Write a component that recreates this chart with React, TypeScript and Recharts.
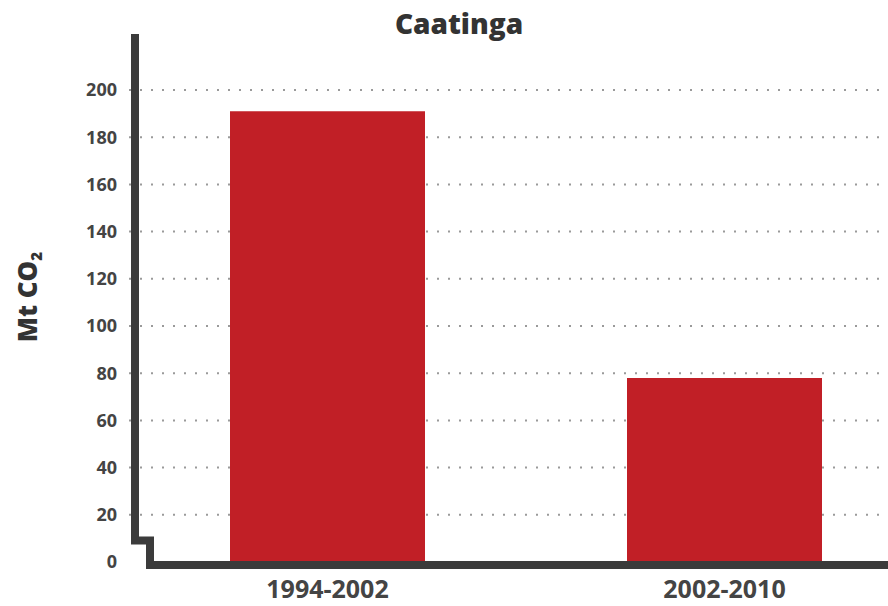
import { BarChart, Bar, XAxis, YAxis, CartesianGrid } from 'recharts';

// Caatinga emissions per period (Mt CO2)
const periods = ['1994-2002', '2002-2010'];
const emissions = [191, 78];
const yTicks = [0, 20, 40, 60, 80, 100, 120, 140, 160, 180, 200];

const data = periods.map((period, i) => ({ period, value: emissions[i] }));

const FONT = '"Open Sans", "DejaVu Sans", sans-serif';
const INK = '#444444';
const AXIS = '#3b3b3b';

export default function App() {
  return (
    <div
      style={{
        position: 'absolute',
        left: 0,
        top: 0,
        width: 888,
        height: 606,
        overflow: 'hidden',
        background: '#fff',
      }}
    >
      <BarChart
        width={930}
        height={606}
        data={data}
        margin={{ top: 90, right: 7, bottom: 0, left: 0 }}
      >
        {/* no dotted line at zero, the axis sits there */}
        <CartesianGrid
          vertical={false}
          horizontalValues={yTicks.slice(1)}
          stroke="#9a9a9a"
          strokeWidth={2}
          strokeDasharray="2 9"
        />
        <XAxis
          dataKey="period"
          height={44}
          axisLine={false}
          tickLine={false}
          tickSize={0}
          tickMargin={18}
          tick={{ fill: INK, fontSize: 25, fontWeight: 700, fontFamily: FONT }}
        />
        <YAxis
          width={129}
          domain={[0, 200]}
          ticks={yTicks}
          interval={0}
          axisLine={false}
          tickLine={false}
          tickSize={0}
          tickMargin={12}
          tick={{ fill: INK, fontSize: 18, fontWeight: 700, fontFamily: FONT }}
        />
        <Bar dataKey="value" fill="#c11f26" barSize={195} isAnimationActive={false} />
      </BarChart>

      {/* title, axis title and the broken axis frame */}
      <svg
        width={888}
        height={606}
        style={{ position: 'absolute', left: 0, top: 0, pointerEvents: 'none' }}
      >
        <text
          x={459}
          y={34}
          textAnchor="middle"
          fontFamily={FONT}
          fontWeight={800}
          fontSize={28}
          fill="#333"
        >
          Caatinga
        </text>
        <text
          transform="translate(37,297) rotate(-90)"
          textAnchor="middle"
          fontFamily={FONT}
          fontWeight={800}
          fontSize={26}
          fill="#333"
        >
          Mt CO
          <tspan fontSize={15} dy={5}>
            2
          </tspan>
        </text>
        <path
          d="M135,34 V540.5 H150 V565 H930"
          fill="none"
          stroke={AXIS}
          strokeWidth={8}
          strokeLinejoin="miter"
        />
      </svg>
    </div>
  );
}
